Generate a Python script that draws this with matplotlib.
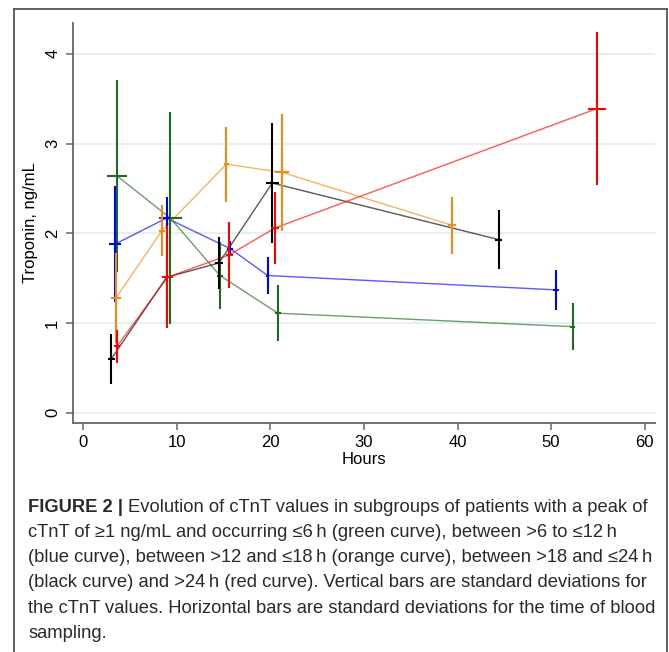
import matplotlib
matplotlib.use('Agg')
import matplotlib.pyplot as plt
from matplotlib.lines import Line2D

plt.rcParams['font.family'] = ['Liberation Sans', 'DejaVu Sans']

# time of blood sampling (hours) and its SD, troponin (ng/mL) and its SD
green_h = [3.6, 9.3, 14.6, 20.8, 52.3]
green_hsd = [1.1, 1.2, 0.3, 0.3, 0.3]
green_v = [2.64, 2.17, 1.53, 1.11, 0.96]
green_vsd = [1.07, 1.18, 0.37, 0.31, 0.26]

blue_h = [3.4, 8.9, 15.7, 19.7, 50.5]
blue_hsd = [0.6, 0.4, 0.3, 0.2, 0.3]
blue_v = [1.88, 2.17, 1.83, 1.53, 1.37]
blue_vsd = [0.65, 0.24, 0.08, 0.21, 0.22]

orange_h = [3.5, 8.4, 15.3, 21.2, 39.4]
orange_hsd = [0.5, 0.3, 0.3, 0.75, 0.4]
orange_v = [1.28, 2.03, 2.77, 2.68, 2.09]
orange_vsd = [0.5, 0.28, 0.42, 0.65, 0.32]

black_h = [3.0, 8.9, 14.5, 20.2, 44.4]
black_hsd = [0.4, 0.3, 0.4, 0.7, 0.4]
black_v = [0.60, 1.51, 1.67, 2.56, 1.93]
black_vsd = [0.28, 0.44, 0.29, 0.67, 0.33]

red_h = [3.6, 9.0, 15.6, 20.5, 54.9]
red_hsd = [0.3, 0.6, 0.4, 0.4, 0.96]
red_v = [0.74, 1.51, 1.76, 2.06, 3.39]
red_vsd = [0.18, 0.57, 0.37, 0.40, 0.85]

x_ticks = [0, 10, 20, 30, 40, 50, 60]
y_ticks = [0, 1, 2, 3, 4]

groups = [
    (green_h, green_hsd, green_v, green_vsd, '#1e6b1e'),
    (blue_h, blue_hsd, blue_v, blue_vsd, '#0000ff'),
    (orange_h, orange_hsd, orange_v, orange_vsd, '#f28a12'),
    (black_h, black_hsd, black_v, black_vsd, '#000000'),
    (red_h, red_hsd, red_v, red_vsd, '#ff0000'),
]

W, H = 669, 652
fig = plt.figure(figsize=(W / 100, H / 100), dpi=100)
ax = fig.add_axes([72.7 / W, 1 - 422.7 / H, (655 - 72.7) / W, (422.7 - 23.3) / H])

for h, hsd, v, vsd, c in groups:
    ax.plot(h, v, color=c, lw=1.0, alpha=0.65, zorder=2)
    ax.errorbar(h, v, xerr=hsd, yerr=vsd, fmt='none', ecolor=c,
                elinewidth=1.5, capsize=0, zorder=3)

ax.set_xlim(-1.13, 61.1)
ax.set_ylim(-0.11, 4.34)
ax.set_xticks(x_ticks)
ax.set_yticks(y_ticks)
ax.grid(axis='y', color='#e6f0f2', lw=1.5, zorder=0)
ax.set_axisbelow(True)
for s in ['top', 'right']:
    ax.spines[s].set_visible(False)
for s in ['left', 'bottom']:
    ax.spines[s].set_color('#666666')
    ax.spines[s].set_linewidth(1.3)
ax.tick_params(direction='out', length=5, width=1.1, color='#666666',
               labelsize=12, pad=4)
for lab in ax.get_yticklabels():
    lab.set_rotation(90)
    lab.set_va('center')
ax.set_xlabel('Hours', fontsize=12, labelpad=1)
ax.set_ylabel('Troponin, ng/mL', fontsize=12, labelpad=5)

# figure frame
fc = '#555555'
fig.add_artist(Line2D([14 / W, 14 / W], [0, 1 - 8.5 / H], color=fc, lw=1.3))
fig.add_artist(Line2D([14 / W, 666.5 / W], [1 - 8.5 / H, 1 - 8.5 / H], color=fc, lw=1.3))
fig.add_artist(Line2D([666.5 / W, 666.5 / W], [0, 1 - 8.5 / H], color=fc, lw=1.3))

# caption
cap_lines = [
    "Evolution of cTnT values in subgroups of patients with a peak of",
    "cTnT of \u22651 ng/mL and occurring \u22646\u2009h (green curve), between >6 to \u226412\u2009h",
    "(blue curve), between >12 and \u226418\u2009h (orange curve), between >18 and \u226424\u2009h",
    "(black curve) and >24\u2009h (red curve). Vertical bars are standard deviations for",
    "the cTnT values. Horizontal bars are standard deviations for the time of blood",
    "sampling.",
]
cap_x = 28.5
cap_y0 = 507
cap_dy = 25.3
fs = 13.2
tc = '#2a2a2a'
renderer = fig.canvas.get_renderer()
bold = fig.text(cap_x / W, 1 - cap_y0 / H, "FIGURE 2 |", fontsize=fs,
                fontweight='bold', color=tc, va='center')
bw = bold.get_window_extent(renderer).width
for i, line in enumerate(cap_lines):
    x = cap_x
    if i == 0:
        x = cap_x + bw + 5
    fig.text(x / W, 1 - (cap_y0 + i * cap_dy) / H, line, fontsize=fs,
             color=tc, va='center')

fig.savefig('out.png', dpi=100)
